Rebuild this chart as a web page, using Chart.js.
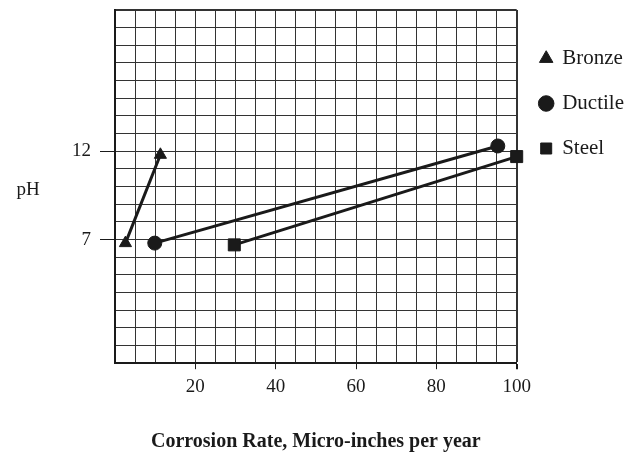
<!DOCTYPE html>
<html>
<head>
<meta charset="utf-8">
<script src="https://cdn.jsdelivr.net/npm/chart.js@4"></script>
<style>
  html, body { margin: 0; padding: 0; background: #fff; }
  #wrap { width: 636px; height: 454px; }
</style>
</head>
<body>
<div id="wrap"><canvas id="graph"></canvas></div>
<script>
const seriesNames = ['Bronze', 'Ductile', 'Steel'];
const bronzeRate = [2.6, 11.3];
const bronzePH = [6.8, 11.8];
const ductileRate = [9.9, 95.3];
const ductilePH = [6.8, 12.3];
const steelRate = [29.7, 100];
const steelPH = [6.7, 11.7];
const xTickLabels = [20, 40, 60, 80, 100];
const yTickLabels = [7, 12];

const ink = '#1a1a1a';
const serif = "'Liberation Serif', 'DejaVu Serif', serif";

const toPoints = (xs, ys) => xs.map((x, i) => ({ x: x, y: ys[i] }));

const lineSet = (label, xs, ys, style, radius) => ({
    label: label,
    data: toPoints(xs, ys),
    showLine: true,
    borderColor: ink,
    backgroundColor: ink,
    borderWidth: 3,
    pointStyle: style,
    pointRadius: radius,
    pointBackgroundColor: ink,
    pointBorderColor: ink,
    pointBorderWidth: 1,
    clip: false
});

// horizontal "pH" label at the left
const phLabel = {
    id: 'phLabel',
    afterDraw(chart) {
        const ctx = chart.ctx;
        ctx.save();
        ctx.font = '19px ' + serif;
        ctx.fillStyle = ink;
        ctx.textAlign = 'center';
        ctx.textBaseline = 'middle';
        ctx.fillText('pH', 28, 190);
        ctx.restore();
    }
};

const config = {
    type: 'scatter',
    data: {
        datasets: [
            lineSet(seriesNames[0], bronzeRate, bronzePH, 'triangle', 7),
            lineSet(seriesNames[1], ductileRate, ductilePH, 'circle', 7),
            lineSet(seriesNames[2], steelRate, steelPH, 'rect', 8.5)
        ]
    },
    options: {
        responsive: true,
        maintainAspectRatio: false,
        animation: false,
        layout: { padding: { left: 63, top: 10, right: 2, bottom: 0 } },
        scales: {
            x: {
                type: 'linear',
                min: 0,
                max: 100,
                border: { color: ink, width: 2 },
                grid: {
                    color: '#333',
                    lineWidth: c => (c.tick && c.tick.value === 100 ? 2 : 1),
                    tickLength: 6,
                    tickColor: c => (c.tick && xTickLabels.includes(c.tick.value) ? ink : 'rgba(0,0,0,0)')
                },
                ticks: {
                    stepSize: 5,
                    autoSkip: false,
                    maxRotation: 0,
                    padding: 6,
                    color: ink,
                    font: { family: serif, size: 19 },
                    callback: v => (xTickLabels.includes(v) ? String(v) : '')
                },
                title: {
                    display: true,
                    text: 'Corrosion Rate, Micro-inches per year',
                    color: ink,
                    font: { family: serif, size: 20, weight: 'bold' },
                    padding: { top: 26, bottom: 0 }
                }
            },
            y: {
                type: 'linear',
                min: 0,
                max: 20,
                border: { color: ink, width: 2 },
                grid: {
                    color: '#333',
                    lineWidth: c => (c.tick && c.tick.value === 20 ? 2 : 1),
                    tickLength: 15,
                    tickColor: c => (c.tick && yTickLabels.includes(c.tick.value) ? ink : 'rgba(0,0,0,0)')
                },
                ticks: {
                    stepSize: 1,
                    autoSkip: false,
                    padding: 9,
                    color: ink,
                    font: { family: serif, size: 19, lineHeight: 0.1 },
                    callback: v => (yTickLabels.includes(v) ? String(v) : '')
                }
            }
        },
        plugins: {
            legend: {
                position: 'right',
                align: 'start',
                title: { display: true, text: ' ', font: { size: 10 }, padding: { top: 2, bottom: 0 } },
                labels: {
                    usePointStyle: true,
                    boxWidth: 11,
                    boxHeight: 11,
                    padding: 24,
                    color: ink,
                    font: { family: serif, size: 21 }
                }
            },
            tooltip: { enabled: false }
        }
    },
    plugins: [phLabel]
};

const myChart = new Chart(document.getElementById('graph'), config);
</script>
</body>
</html>
